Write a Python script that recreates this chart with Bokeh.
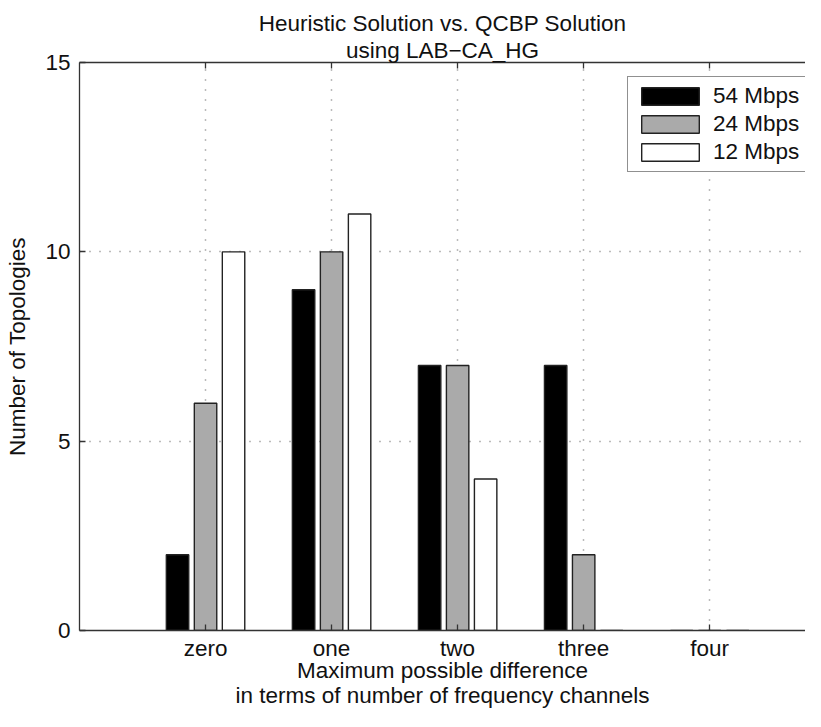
from bokeh.plotting import figure
from bokeh.models import FixedTicker, LinearAxis, Range1d, Legend, LegendItem, Title
from bokeh.embed import file_html
from bokeh.resources import INLINE

categories = ["zero", "one", "two", "three", "four"]
positions = [1, 2, 3, 4, 5]
series_names = ["54 Mbps", "24 Mbps", "12 Mbps"]
v54 = [2, 9, 7, 7, 0]
v24 = [6, 10, 7, 2, 0]
v12 = [10, 11, 4, 0, 0]
colors = ["#000000", "#aaaaaa", "#ffffff"]
y_ticks = [0, 5, 10, 15]

FONT = "Liberation Sans"
FS = "22.5px"

p = figure(width=805, height=711, output_backend="svg", toolbar_location=None,
           x_range=Range1d(0, 5.76), y_range=Range1d(0, 15),
           min_border_left=79, min_border_top=62, min_border_bottom=74, min_border_right=0,
           x_axis_location=None, y_axis_location=None)
p.outline_line_color = None
p.background_fill_color = "white"
p.border_fill_color = "white"

offsets = [-0.2222, 0.0, 0.2222]
bw = 0.178
vals = [v54, v24, v12]
renderers = []
for vs, off, col in zip(vals, offsets, colors):
    xs = [x + off for x in positions]
    r = p.vbar(x=xs, top=vs, width=bw, bottom=0, fill_color=col,
               line_color="#222222", line_width=1.4)
    renderers.append(r)

def style_axis(ax, labels=True):
    ax.axis_line_color = "#333333"
    ax.axis_line_width = 1.3
    ax.major_tick_in = 6
    ax.major_tick_out = 0
    ax.major_tick_line_color = "#333333"
    ax.major_tick_line_width = 1.3
    ax.minor_tick_line_color = None
    ax.major_label_text_font = FONT
    ax.major_label_text_font_size = FS
    ax.major_label_text_color = "#111111"
    ax.axis_label_text_font = FONT
    ax.axis_label_text_font_size = FS
    ax.axis_label_text_font_style = "normal"
    ax.axis_label_text_color = "#111111"
    ax.axis_label_text_line_height = 1.03
    ax.major_label_text_line_height = 1.0
    if not labels:
        ax.major_label_text_alpha = 0
        ax.major_label_text_font_size = "1px"

xb = LinearAxis(ticker=FixedTicker(ticks=positions),
                major_label_overrides={x: c for x, c in zip(positions, categories)},
                axis_label="Maximum possible difference\nin terms of number of frequency channels")
style_axis(xb)
xb.major_label_standoff = 5
xb.axis_label_standoff = -6
p.add_layout(xb, "below")

xa = LinearAxis(ticker=FixedTicker(ticks=positions))
style_axis(xa, labels=False)
p.add_layout(xa, "above")

yl = LinearAxis(ticker=FixedTicker(ticks=y_ticks), axis_label="Number of Topologies")
style_axis(yl)
yl.major_label_standoff = 9
yl.axis_label_standoff = 12
p.add_layout(yl, "left")

for txt in ["using LAB\u2212CA_HG", "Heuristic Solution vs. QCBP Solution"]:
    t = Title(text=txt, align="center", text_font=FONT, text_font_size=FS,
              text_font_style="normal", text_color="#111111", offset=10,
              standoff=0)
    p.add_layout(t, "above")

p.xgrid.ticker = FixedTicker(ticks=positions)
p.ygrid.ticker = FixedTicker(ticks=y_ticks)
for g in (p.xgrid, p.ygrid):
    g.grid_line_color = "#777777"
    g.grid_line_dash = "1 9"
    g.grid_line_width = 1.5

legend = Legend(items=[LegendItem(label=n, renderers=[r]) for n, r in zip(series_names, renderers)],
                location=(548, 458), orientation="vertical")
legend.label_text_font = FONT
legend.label_text_font_size = FS
legend.label_text_color = "#111111"
legend.glyph_width = 72
legend.glyph_height = 22
legend.label_height = 22
legend.spacing = 2
legend.padding = 6
legend.margin = 0
legend.label_standoff = 7
legend.border_line_color = "#222222"
legend.border_line_width = 1.5
legend.background_fill_color = "white"
legend.background_fill_alpha = 1
p.add_layout(legend, "center")

open("out.html", "w").write(file_html(p, INLINE))
